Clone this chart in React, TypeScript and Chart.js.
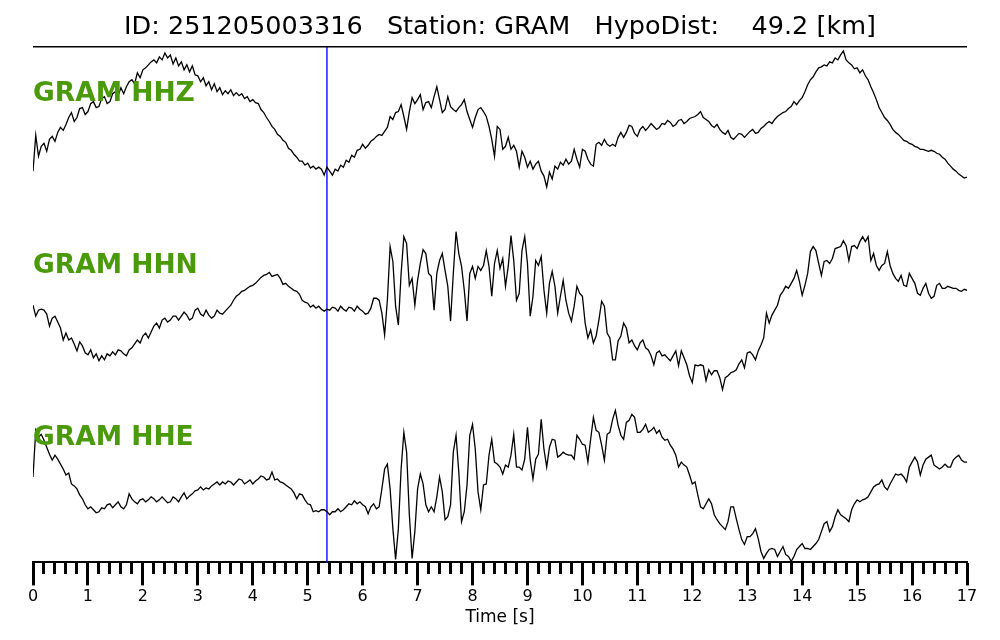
import React, { useEffect, useRef } from 'react';
import { Chart, registerables } from 'chart.js';

Chart.register(...registerables);

// ---- metadata ----
const eventId = '251205003316';
const stationCode = 'GRAM';
const hypoDistKm = 49.2;
const sampleInterval = 0.05; // seconds between samples
const pickTime = 5.35; // s (blue marker)
const timeMin = 0;
const timeMax = 17;
const channelNames = ['HHZ', 'HHN', 'HHE'];

// ---- trace amplitudes (arbitrary units, one row = 1 s) ----
const hhz = [
  28,64,43,53,56,48,60,63,58,67,72,69,75,82,87,78,82,91,92,85,
  88,96,98,92,93,101,103,96,98,106,108,104,112,106,113,118,120,116,127,122,
  130,132,135,138,140,137,143,140,147,142,145,136,142,134,138,130,135,128,134,125,
  124,118,122,114,118,110,116,108,112,105,109,106,110,104,107,104,106,101,103,98,
  100,97,96,90,87,82,78,73,70,65,63,59,57,51,49,45,42,38,38,34,
  36,31,33,30,32,30,24,32,28,24,30,28,34,32,39,37,44,42,49,50,
  55,51,54,58,60,63,65,64,68,72,83,80,87,88,95,83,70,88,102,96,
  100,105,90,97,98,92,103,113,100,87,90,103,93,90,88,92,95,100,88,80,
  72,82,90,92,88,83,73,60,43,73,70,50,53,62,50,54,48,32,48,42,
  32,38,30,35,38,28,23,12,27,20,33,30,37,34,40,35,38,50,40,32,
  50,48,40,35,33,55,57,54,60,55,53,55,53,62,67,62,67,74,73,66,
  63,70,73,69,72,76,73,70,72,76,75,79,77,73,75,79,80,76,78,81,
  82,83,85,88,82,80,78,74,72,75,70,67,65,69,62,60,63,66,65,62,
  65,68,70,66,67,71,73,76,78,76,80,83,85,87,88,91,93,98,95,99,
  102,108,115,120,123,128,132,133,135,134,138,137,142,140,145,149,140,137,135,131,
  132,127,130,124,120,113,107,100,92,87,82,79,75,70,67,65,62,59,58,56,
  55,53,52,50,50,49,48,49,48,46,45,42,40,36,33,30,28,25,23,21,
  22,
];

const hhn = [
  93,82,88,89,88,84,72,80,82,76,70,58,65,58,60,54,47,56,52,45,
  43,48,40,44,37,42,38,44,42,46,43,48,47,44,42,48,50,54,58,55,
  62,65,60,66,72,75,70,78,80,76,78,82,82,78,82,86,83,78,80,88,
  90,84,82,88,83,80,82,88,85,84,87,90,93,98,102,104,107,108,110,112,
  113,115,118,121,123,124,126,122,123,124,120,114,115,112,110,108,107,104,98,96,
  95,91,93,90,92,89,87,89,88,91,90,87,92,89,87,91,90,87,92,89,
  87,84,85,90,100,100,98,85,63,98,152,137,92,73,125,162,155,113,120,93,
  118,135,149,145,125,122,88,125,138,145,128,112,77,125,167,145,132,108,77,125,
  132,120,132,128,133,148,132,102,135,148,130,140,112,132,163,138,98,105,148,162,
  135,82,102,138,133,142,108,85,115,127,112,85,102,118,98,85,77,92,112,105,
  102,75,60,68,55,62,78,97,92,65,60,38,38,57,62,75,70,55,58,52,
  48,55,58,50,48,42,33,45,47,42,43,40,37,42,47,32,47,40,33,22,
  15,33,32,33,32,17,28,23,27,27,20,8,20,22,25,26,28,34,38,30,
  45,46,43,38,47,53,60,85,75,83,88,93,103,107,112,110,115,120,128,117,
  103,113,125,147,152,148,135,123,137,138,135,140,150,151,152,158,153,138,152,153,
  150,157,162,157,162,138,145,133,128,133,135,147,133,125,120,117,123,113,112,125,
  120,115,105,103,110,115,105,100,102,113,115,110,110,112,111,110,110,108,107,109,
  108,
];

const hhe = [
  86,133,126,129,123,116,109,103,108,104,99,94,88,90,79,77,74,68,64,58,
  54,56,53,50,51,55,54,58,59,55,58,61,56,54,58,69,64,61,59,63,
  64,61,63,66,64,61,63,66,63,60,61,66,64,61,66,70,64,67,69,72,
  73,76,73,75,74,77,79,81,78,81,79,82,81,78,81,84,83,79,81,83,
  79,82,84,87,86,83,84,91,83,84,81,80,78,76,74,70,64,69,68,63,
  59,58,51,52,51,53,53,51,48,51,51,54,51,53,56,59,58,62,59,61,
  58,56,49,56,59,54,56,74,94,99,74,34,3,34,94,131,111,48,4,31,
  74,89,79,58,51,56,51,66,86,71,43,46,58,111,128,91,41,51,78,128,
  139,114,71,53,78,79,108,124,101,99,96,89,98,96,108,129,96,96,93,104,
  136,103,84,104,109,144,114,96,116,124,123,106,108,111,109,108,108,104,128,124,
  119,118,101,124,146,133,131,118,103,129,131,144,153,138,128,124,141,143,149,146,
  131,131,134,139,131,133,136,130,133,126,123,124,118,114,108,96,101,98,96,88,
  79,81,68,56,54,59,64,59,48,43,39,36,33,41,56,56,44,33,23,18,
  26,26,29,34,24,11,4,9,13,14,13,6,11,16,8,6,1,6,13,16,
  19,14,14,13,16,19,23,31,39,41,31,36,46,53,48,46,44,41,53,59,
  63,61,63,64,66,71,76,78,79,83,76,73,79,84,89,88,89,86,81,96,
  101,106,101,88,98,104,106,108,98,96,94,96,99,96,96,103,106,108,103,101,
  101,
];

// vertical stacking of the traces (same units as amplitudes)
const traceOffsets = [366, 166, 0];
const stackRange = [0, 520];
const labelLevels = [464.5, 291, 118];
const labelColor = '#4a9a0c';

const traces = [hhz, hhn, hhe];

const decorPlugin = {
  id: 'seismoDecor',
  afterDatasetsDraw(chart: any) {
    const { ctx, chartArea, scales } = chart;
    ctx.save();
    // top frame line
    ctx.strokeStyle = '#000';
    ctx.lineWidth = 1.5;
    ctx.beginPath();
    ctx.moveTo(chartArea.left, chartArea.top + 0.75);
    ctx.lineTo(chartArea.right, chartArea.top + 0.75);
    ctx.stroke();
    // channel labels
    ctx.fillStyle = labelColor;
    ctx.font = 'bold 26.5px "DejaVu Sans"';
    ctx.textAlign = 'left';
    ctx.textBaseline = 'alphabetic';
    channelNames.forEach((ch, i) => {
      ctx.fillText(`${stationCode} ${ch}`, chartArea.left, scales.y.getPixelForValue(labelLevels[i]));
    });
    ctx.restore();
  },
};

export default function App() {
  const canvasRef = useRef<HTMLCanvasElement | null>(null);

  useEffect(() => {
    if (!canvasRef.current) return;
    Chart.defaults.font.family = '"DejaVu Sans"';
    Chart.defaults.color = '#000';

    const datasets: any[] = traces.map((tr, k) => ({
      label: `${stationCode} ${channelNames[k]}`,
      data: tr.map((v, i) => ({ x: i * sampleInterval, y: v + traceOffsets[k] })),
      borderColor: '#000',
      borderWidth: 1.3,
      pointRadius: 0,
      tension: 0,
      fill: false,
    }));
    datasets.push({
      label: 'pick',
      data: [
        { x: pickTime, y: stackRange[0] },
        { x: pickTime, y: stackRange[1] },
      ],
      borderColor: '#1a1aff',
      borderWidth: 1.5,
      pointRadius: 0,
      fill: false,
    });

    const isMajor = (v: number) => Math.abs(v - Math.round(v)) < 1e-6;

    const chart = new Chart(canvasRef.current, {
      type: 'line',
      data: { datasets },
      options: {
        animation: false,
        responsive: true,
        maintainAspectRatio: false,
        layout: { padding: { left: 33, right: 33, top: 0, bottom: 0 } },
        plugins: {
          legend: { display: false },
          tooltip: { enabled: false },
          title: {
            display: true,
            text: `ID: ${eventId}   Station: ${stationCode}   HypoDist:    ${hypoDistKm.toFixed(1)} [km]`,
            color: '#000',
            font: { family: '"DejaVu Sans"', size: 25.5, weight: 'normal', lineHeight: 1.2 },
            padding: { top: 12, bottom: 3.4 },
          },
        },
        scales: {
          x: {
            type: 'linear',
            min: timeMin,
            max: timeMax,
            border: { display: true, color: '#000', width: 2 },
            grid: {
              display: true,
              drawOnChartArea: false,
              drawTicks: true,
              tickLength: 23,
              tickColor: '#000',
              tickWidth: 3,
              tickBorderDash: (c: any) => (c.tick && isMajor(c.tick.value) ? [] : [11, 100]),
            },
            ticks: {
              stepSize: 0.2,
              maxTicksLimit: 1000,
              autoSkip: false,
              maxRotation: 0,
              padding: 3,
              color: '#000',
              font: { size: 16, lineHeight: 1.1 },
              callback: (v: any) => (isMajor(Number(v)) ? String(Math.round(Number(v))) : ''),
            },
            title: {
              display: true,
              text: 'Time [s]',
              color: '#000',
              font: { size: 17, lineHeight: 1 },
              padding: { top: 0, bottom: 14 },
            },
          },
          y: {
            type: 'linear',
            display: false,
            min: stackRange[0],
            max: stackRange[1],
          },
        },
      },
      plugins: [decorPlugin],
    } as any);

    return () => chart.destroy();
  }, []);

  return (
    <div style={{ position: 'fixed', left: 0, top: 0, width: 1000, height: 640, background: '#fff' }}>
      <canvas ref={canvasRef} />
    </div>
  );
}
